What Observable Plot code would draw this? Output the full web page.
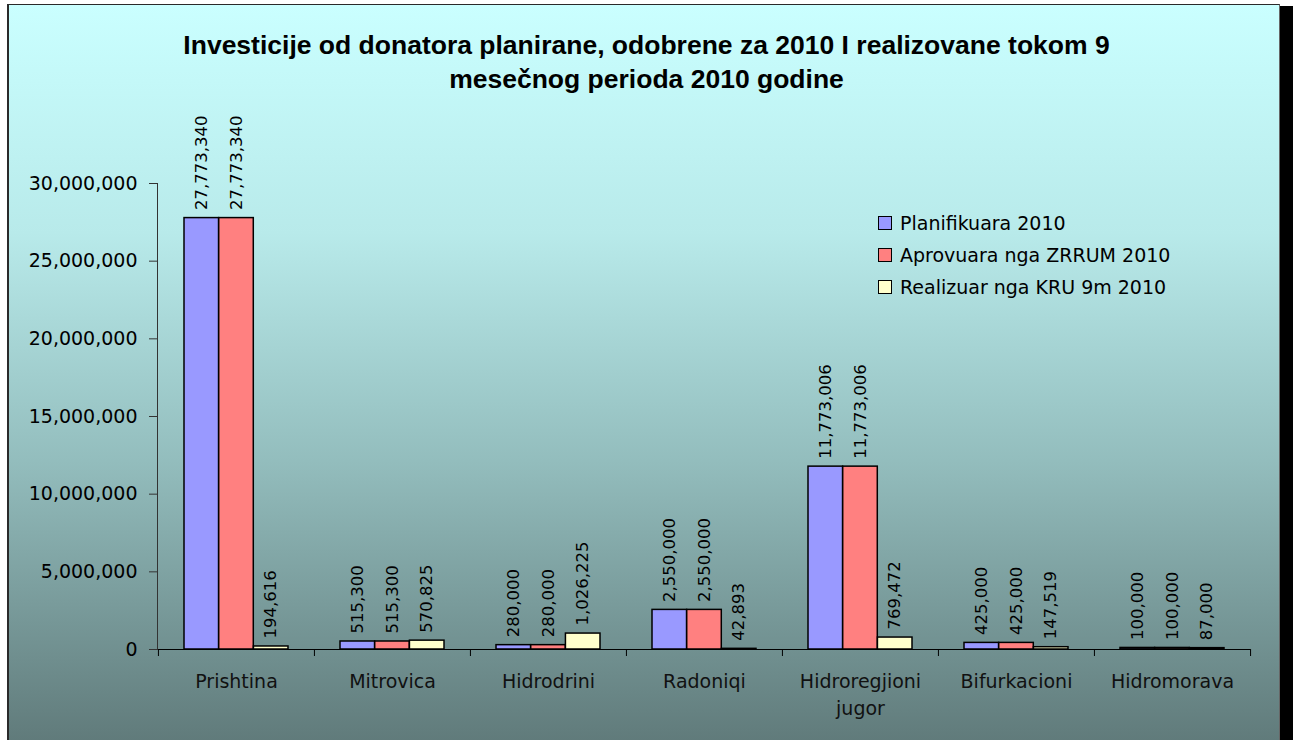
<!DOCTYPE html>
<html>
<head>
<meta charset="utf-8">
<script src="https://cdn.jsdelivr.net/npm/d3@7"></script>
<script src="https://cdn.jsdelivr.net/npm/@observablehq/plot@0.6"></script>
<style>
  html, body { margin: 0; padding: 0; background: #ffffff; overflow: hidden; }
  #page { position: relative; width: 1293px; height: 740px; overflow: hidden; font-family: "DejaVu Sans", sans-serif; }
  #shadow { position: absolute; left: 1280px; top: 6px; width: 13px; height: 760px; background: #000; z-index: 5; }
  #frame { position: absolute; left: 7px; top: 4px; width: 1270px; height: 760px;
           border-left: 2px solid #2a2a2a; border-top: 1.5px solid #2a2a2a; border-right: 1px solid #666;
           background: linear-gradient(to bottom, #CAFFFF 0%, #B8EAEA 30%, #93BDBD 60%, #5C7575 100%); }
  #title { position: absolute; left: 0; top: 28px; width: 1293px; text-align: center;
           font-family: "Liberation Sans", Arial, sans-serif; font-weight: bold; font-size: 26.5px;
           line-height: 34px; color: #000; }
  #chart { position: absolute; left: 0; top: 0; }
  #chart svg { background: transparent; overflow: visible; }
  #legend { position: absolute; left: 878px; top: 207px; font-size: 19px; color: #000; }
  .item { height: 32px; display: flex; align-items: center; }
  .sw { width: 12px; height: 12px; border: 1.5px solid #000; margin-right: 8px; }
</style>
</head>
<body>
<div id="page">
  <div id="frame"></div>
  <div id="title">Investicije od donatora planirane, odobrene za 2010 I realizovane tokom 9<br>mesečnog perioda 2010 godine</div>
  <div id="chart"></div>
  <div id="legend"></div>
  <div id="shadow"></div>
</div>
<script>
// ---- data ----
const categories = ["Prishtina", "Mitrovica", "Hidrodrini", "Radoniqi", "Hidroregjioni jugor", "Bifurkacioni", "Hidromorava"];
const categoryLabels = ["Prishtina", "Mitrovica", "Hidrodrini", "Radoniqi", "Hidroregjioni\njugor", "Bifurkacioni", "Hidromorava"];
const seriesNames = ["Planifikuara 2010", "Aprovuara nga ZRRUM 2010", "Realizuar nga KRU 9m 2010"];
const planifikuara = [27773340, 515300, 280000, 2550000, 11773006, 425000, 100000];
const aprovuara   = [27773340, 515300, 280000, 2550000, 11773006, 425000, 100000];
const realizuar   = [194616, 570825, 1026225, 42893, 769472, 147519, 87000];
const seriesColors = ["#9999FF", "#FF8080", "#FFFFCC"];
const yTicks = [0, 5000000, 10000000, 15000000, 20000000, 25000000, 30000000];

const seriesValues = [planifikuara, aprovuara, realizuar];
const rows = [];
seriesNames.forEach((s, si) => categories.forEach((c, ci) => rows.push({category: c, series: s, si, value: seriesValues[si][ci]})));

const W = 1293, H = 740;
const mL = 157, mR = 43, mT = 183, mB = 91;
const band = (W - mL - mR) / categories.length;
const groupPad = 26;
const barW = (band - 2 * groupPad) / 3;
const fmt = d3.format(",");
const labelOf = new Map(categories.map((c, i) => [c, categoryLabels[i]]));

const marks = [];
seriesNames.forEach((s, si) => {
  const sub = rows.filter(r => r.si === si);
  marks.push(Plot.barY(sub, {
    x: "category", y: "value", fill: seriesColors[si], stroke: "#000", strokeWidth: 1.5,
    insetLeft: groupPad + barW * si, insetRight: band - groupPad - barW * (si + 1)
  }));
});
seriesNames.forEach((s, si) => {
  const sub = rows.filter(r => r.si === si);
  marks.push(Plot.text(sub, {
    x: "category", y: "value", text: d => fmt(d.value), rotate: -90, textAnchor: "start",
    dx: (si - 1) * barW, dy: -8, fontSize: 16.5, fill: "#000"
  }));
});

const plot = Plot.plot({
  width: W, height: H,
  marginLeft: mL, marginRight: mR, marginTop: mT, marginBottom: mB,
  style: {background: "transparent", fontFamily: "DejaVu Sans, sans-serif", fontSize: "19px", color: "#000"},
  x: {type: "band", domain: categories, padding: 0, axis: null},
  y: {domain: [0, 30000000], axis: null},
  marks: [
    ...marks,
    Plot.ruleY([0], {stroke: "#000", strokeWidth: 1}),
    Plot.frame({anchor: "left", stroke: "#333"}),
    Plot.ruleX(categories, {x: d => d, dx: -band / 2, y1: 0, y2: 0, insetBottom: -7, stroke: "#000"}),
    Plot.ruleX(categories.slice(-1), {x: d => d, dx: band / 2, y1: 0, y2: 0, insetBottom: -7, stroke: "#000"}),
    Plot.axisY({ticks: yTicks, tickFormat: fmt, tickSize: 8, tickPadding: 12, fontSize: 19, label: null, stroke: "#333", fill: "#000"}),
    Plot.axisX({tickSize: 0, tickPadding: 20, fontSize: 19, lineHeight: 1.4, label: null, tickFormat: d => labelOf.get(d), fill: "#111"})
  ]
});
document.getElementById("chart").appendChild(plot);

const legend = document.getElementById("legend");
seriesNames.forEach((s, i) => {
  const it = document.createElement("div");
  it.className = "item";
  const sw = document.createElement("div");
  sw.className = "sw";
  sw.style.background = seriesColors[i];
  const t = document.createElement("span");
  t.textContent = s;
  it.appendChild(sw); it.appendChild(t);
  legend.appendChild(it);
});
</script>
</body>
</html>
